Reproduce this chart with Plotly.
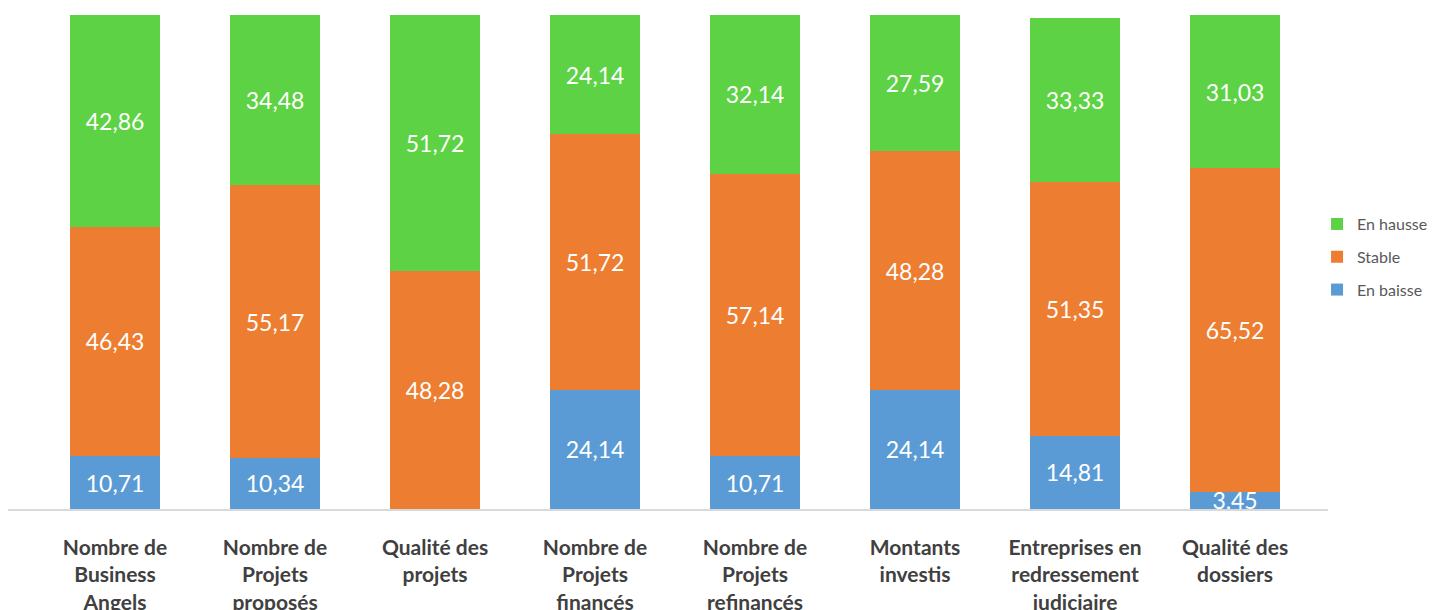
import plotly.graph_objects as go

categories = [
    "Nombre de<br>Business<br>Angels",
    "Nombre de<br>Projets<br>proposés",
    "Qualité des<br>projets",
    "Nombre de<br>Projets<br>financés",
    "Nombre de<br>Projets<br>refinancés",
    "Montants<br>investis",
    "Entreprises en<br>redressement<br>judiciaire",
    "Qualité des<br>dossiers",
]
en_baisse = [10.71, 10.34, 0, 24.14, 10.71, 24.14, 14.81, 3.45]
stable = [46.43, 55.17, 48.28, 51.72, 57.14, 48.28, 51.35, 65.52]
en_hausse = [42.86, 34.48, 51.72, 24.14, 32.14, 27.59, 33.33, 31.03]

series = [
    ("En baisse", en_baisse, "#5B9BD5"),
    ("Stable", stable, "#ED7D31"),
    ("En hausse", en_hausse, "#5CD244"),
]

def fmt(v):
    return "" if v == 0 else f"{v:.2f}".replace(".", ",")

fig = go.Figure()
for i, (name, vals, color) in enumerate(series):
    fig.add_trace(go.Bar(
        x=list(range(len(categories))),
        y=vals,
        name=name,
        legendgroup=name,
        legendrank=3 - i,
        marker=dict(color=color, line=dict(width=0)),
        text=[fmt(v) for v in vals],
        textposition="inside",
        insidetextanchor="middle",
        textangle=0,
        textfont=dict(family="Lato", size=23, color="white"),
        hoverinfo="skip",
        cliponaxis=True,
    ))

# the page body has an 8px margin: figure sized to fit the 1438x610 window
fig.update_layout(
    width=1430,
    height=602,
    barmode="stack",
    bargap=0.4375,
    plot_bgcolor="white",
    paper_bgcolor="white",
    margin=dict(l=0, r=110, t=7, b=101, autoexpand=False),
    uniformtext=dict(minsize=23, mode="show"),
    showlegend=True,
    legend=dict(
        x=0.9917, y=0.51, xanchor="left", yanchor="middle",
        traceorder="grouped",
        font=dict(family="Lato", size=16, color="#595959"),
        tracegroupgap=9,
        bgcolor="rgba(0,0,0,0)",
    ),
    xaxis=dict(
        tickmode="array",
        tickvals=list(range(len(categories))),
        ticktext=[f"<b>{c}</b>" for c in categories],
        range=[-0.669, 7.581],
        showline=True,
        linecolor="#D9D9D9",
        linewidth=1.5,
        showgrid=False,
        ticks="outside",
        ticklen=19,
        tickcolor="rgba(0,0,0,0)",
        tickfont=dict(family="Lato", size=21, color="#404040"),
        zeroline=False,
        automargin=False,
    ),
    yaxis=dict(
        range=[0, 100],
        visible=False,
        showgrid=False,
        zeroline=False,
        automargin=False,
    ),
)

fig.write_html("out.html")
